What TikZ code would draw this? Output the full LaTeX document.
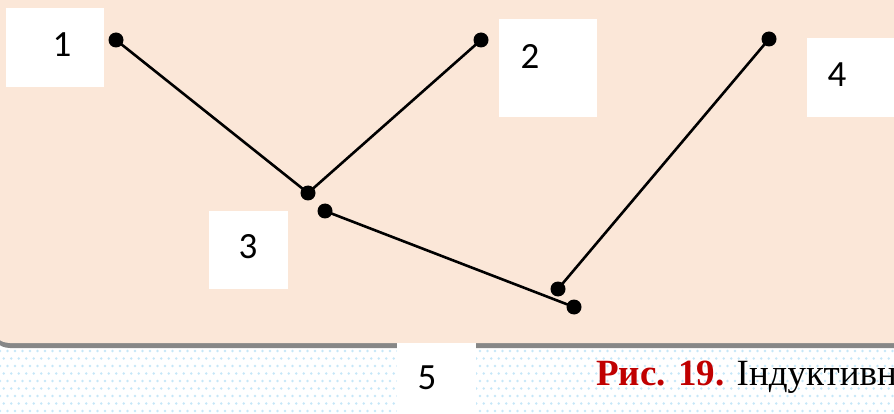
\documentclass[tikz,border=0pt]{standalone}
\usepackage{fontspec}
\setmainfont{Liberation Serif}
\newfontfamily\labelfont{Carlito}

\definecolor{peach}{HTML}{FBE7D8}
\definecolor{shadowgray}{HTML}{878787}
\definecolor{dotblue}{HTML}{C6E7F8}
\definecolor{capred}{HTML}{C00000}

\tikzset{
    joint/.style={circle, fill=black, inner sep=0pt, minimum size=15pt},
    wire/.style={line width=2.6pt},
    numlabel/.style={font=\labelfont\fontsize{37}{37}\selectfont, inner sep=0pt},
}

\begin{document}
\begin{tikzpicture}[x=1pt, y=-1pt]
    \useasboundingbox (0,0) rectangle (894,414);
    \clip (0,0) rectangle (894,414);

    % Dotted strip below the panel
    \foreach \r in {0,...,9} {
        \pgfmathsetmacro{\shift}{mod(\r,2)*3.75}
        \foreach \c in {0,...,120} {
            \fill[dotblue]
                ({\c*7.5+\shift}, {351+\r*7.5})
                circle (1.3pt);
        }
    }

    % Panel with its shadow
    \fill[shadowgray, rounded corners=20pt]
        (-10,-30) rectangle (924,348);
    \fill[peach, rounded corners=20pt]
        (-10,-30) rectangle (924,343);

    % White boxes behind the numbers
    \fill[white] (6,8) rectangle (104,87);
    \fill[white] (499,19) rectangle (597,117);
    \fill[white] (209,211) rectangle (288,289);
    \fill[white] (807,38) rectangle (900,117);
    \fill[white] (397,343) rectangle (476,420);

    % Numbers
    \node[numlabel] (n1) at (62,45) {1};
    \node[numlabel] (n2) at (530,56) {2};
    \node[numlabel] (n3) at (248,247) {3};
    \node[numlabel] (n4) at (837,75) {4};
    \node[numlabel] (n5) at (427,378) {5};

    % Joints
    \node[joint] (a) at (116,40) {};
    \node[joint] (b) at (481,40) {};
    \node[joint] (g) at (769,39) {};
    \node[joint] (c) at (308,193) {};
    \node[joint] (d) at (325,211) {};
    \node[joint] (e) at (558,289) {};
    \node[joint] (f) at (574,307) {};

    % Wires
    \draw[wire] (a.center) -- (c.center);
    \draw[wire] (b.center) -- (c.center);
    \draw[wire] (d.center) -- (f.center);
    \draw[wire] (e.center) -- (g.center);

    % Caption
    \node[anchor=base west, inner sep=0pt, font=\fontsize{37}{37}\selectfont]
        (caption) at (596,385)
        {\textcolor{capred}{\textbf{Рис. 19.}} Індуктивн};
\end{tikzpicture}
\end{document}
